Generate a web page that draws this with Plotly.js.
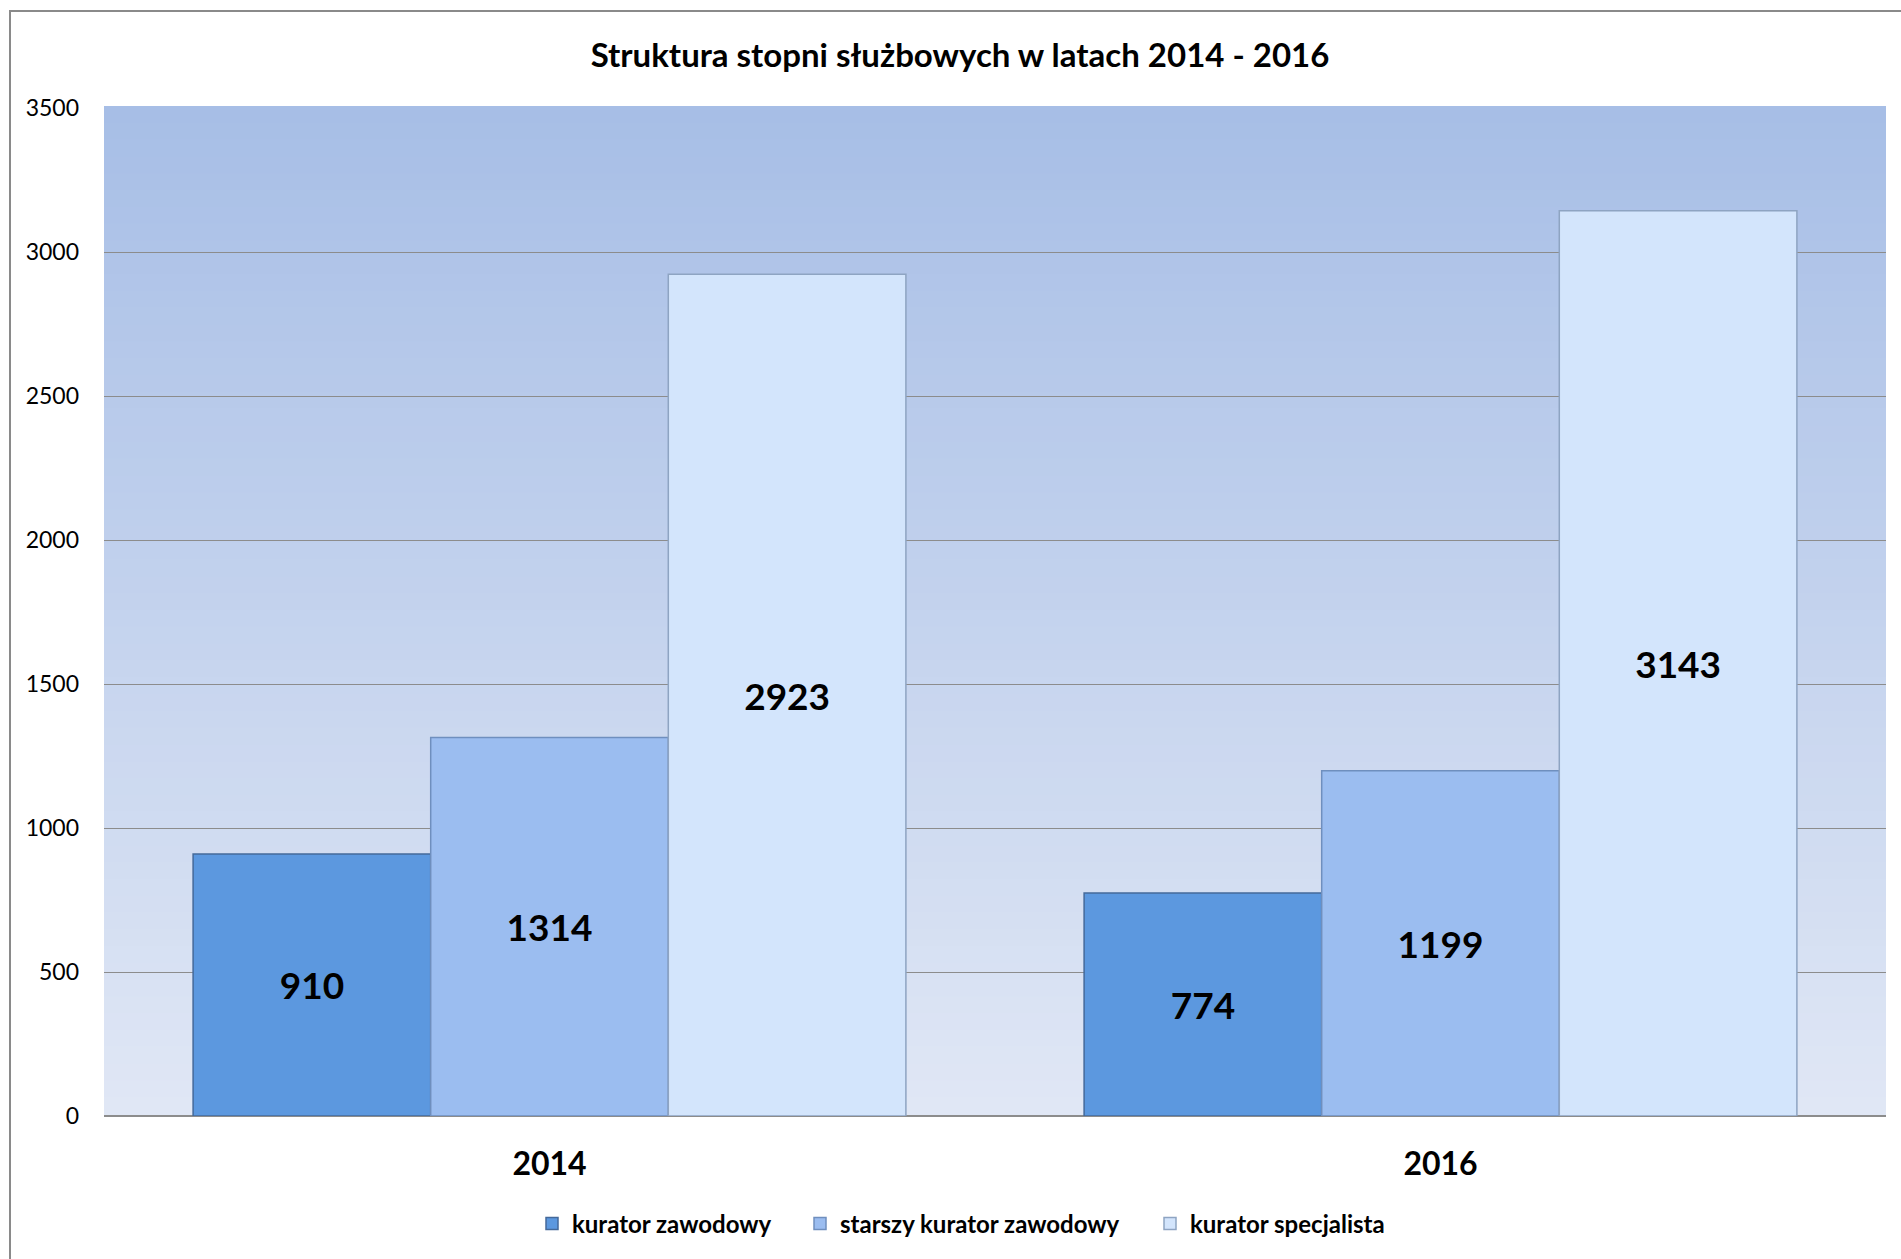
<!DOCTYPE html>
<html>
<head>
<meta charset="utf-8">
<script src="https://cdn.plot.ly/plotly-3.0.1.min.js"></script>
<style>
  html, body { margin: 0; padding: 0; background: #ffffff; }
  #chart { position: absolute; left: 0; top: 0; width: 1901px; height: 1259px; }
  #frame { position: absolute; left: 9px; top: 10px; width: 1892px; height: 1249px;
           border-left: 2px solid #8a8a8a; border-top: 2px solid #8a8a8a; pointer-events: none; }
</style>
</head>
<body>
<div id="chart"></div>
<div id="frame"></div>
<script>
const years = ['2014', '2016'];
const seriesNames = ['kurator zawodowy', 'starszy kurator zawodowy', 'kurator specjalista'];
const kuratorZawodowy = [910, 774];
const starszyKuratorZawodowy = [1314, 1199];
const kuratorSpecjalista = [2923, 3143];
const yTicks = [0, 500, 1000, 1500, 2000, 2500, 3000, 3500];

const FONT = 'Lato, "Open Sans", sans-serif';
const fills = ['#5c98df', '#9bbdf0', '#d3e5fc'];
const edges = ['#44699a', '#6f8fbe', '#8ea4c2'];
const seriesValues = [kuratorZawodowy, starszyKuratorZawodowy, kuratorSpecjalista];
const legendIds = ['legend', 'legend2', 'legend3'];
const legendLeft = [532, 800, 1150];   // pixel position of each legend box (styling)

const traces = seriesValues.map((vals, i) => ({
  type: 'bar',
  name: seriesNames[i],
  legend: legendIds[i],
  x: years,
  y: vals,
  text: vals.map(String),
  textposition: 'inside',
  insidetextanchor: 'middle',
  textangle: 0,
  constraintext: 'none',
  textfont: { family: FONT, size: 37, color: '#000000', weight: 'bold' },
  marker: { color: fills[i], line: { color: edges[i], width: 1.5 } },
  hoverinfo: 'skip'
}));

// vertical gradient background of the plot area, drawn as thin strips
const topC = [167, 190, 230], botC = [224, 231, 245];
const N = 60;
const shapes = [];
for (let k = 0; k < N; k++) {
  const t = (k + 0.5) / N;
  const c = topC.map((v, j) => Math.round(v + (botC[j] - v) * t));
  shapes.push({
    type: 'rect', xref: 'paper', yref: 'paper', layer: 'below',
    x0: 0, x1: 1, y0: 1 - (k + 1) / N, y1: 1 - k / N + 0.002,
    line: { width: 0 }, fillcolor: `rgb(${c[0]},${c[1]},${c[2]})`
  });
}

const legendStyle = (i) => ({
  orientation: 'h',
  x: legendLeft[i] / 1901, xanchor: 'left', xref: 'container',
  y: 1 - 1224 / 1259, yanchor: 'middle', yref: 'container',
  font: { family: FONT, size: 24, color: '#000000', weight: 'bold' },
  itemwidth: 30,
  bgcolor: 'rgba(0,0,0,0)'
});

const layout = {
  width: 1901, height: 1259,
  margin: { l: 104, r: 15, t: 108, b: 143 },
  paper_bgcolor: 'rgba(0,0,0,0)',
  plot_bgcolor: 'rgba(0,0,0,0)',
  barmode: 'group',
  bargap: 0.2,
  bargroupgap: 0.0,
  showlegend: true,
  title: {
    text: 'Struktura stopni służbowych w latach 2014 - 2016',
    font: { family: FONT, size: 33, color: '#000000', weight: 'bold' },
    x: 0.505, xanchor: 'center', xref: 'container',
    y: 1 - 55 / 1259, yanchor: 'middle', yref: 'container'
  },
  xaxis: {
    type: 'category',
    tickfont: { family: FONT, size: 32, color: '#000000', weight: 'bold' },
    ticks: '', showgrid: false, zeroline: false, showline: false,
    ticklabelstandoff: 26
  },
  yaxis: {
    range: [0, 3500],
    tickvals: yTicks,
    ticktext: yTicks.map(String),
    tickfont: { family: FONT, size: 23, color: '#000000' },
    showgrid: true, gridcolor: '#8c8c8c', gridwidth: 1,
    zeroline: true, zerolinecolor: '#8c8c8c', zerolinewidth: 1.5,
    showline: false, ticks: '',
    ticklabelstandoff: 24
  },
  legend: legendStyle(0),
  legend2: legendStyle(1),
  legend3: legendStyle(2),
  shapes: shapes
};

Plotly.newPlot('chart', traces, layout, { displayModeBar: false, staticPlot: true });
</script>
</body>
</html>
